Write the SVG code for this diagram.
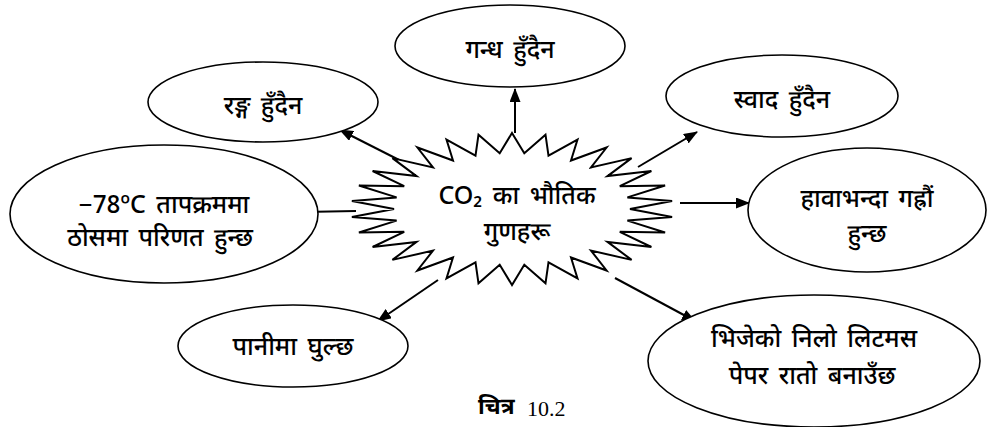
<svg xmlns="http://www.w3.org/2000/svg" width="987" height="427" viewBox="0 0 987 427">
<defs>
<marker id="ah" viewBox="0 0 14 11" refX="13" refY="5.5" markerWidth="14" markerHeight="11" markerUnits="userSpaceOnUse" orient="auto"><path d="M0,0 L14,5.5 L0,11 z" fill="#000"/></marker>
</defs>
<style>
.node ellipse{fill:#fff;stroke:#000;stroke-width:1.6}
.t{font-family:"Noto Sans Devanagari","Noto Sans","Liberation Sans",sans-serif;font-size:25px;font-weight:500;word-spacing:4px;fill:#000;text-anchor:middle}
.con line{stroke:#000;stroke-width:2;marker-end:url(#ah)}
</style>
<rect width="987" height="427" fill="#fff"/>
<g id="connectors" class="con">
<line x1="515" y1="133" x2="515" y2="89"/>
<line x1="405" y1="163" x2="340" y2="130"/>
<line x1="638" y1="167" x2="697" y2="132"/>
<line x1="680" y1="203" x2="749" y2="203"/>
<line x1="356" y1="211" x2="303" y2="212"/>
<line x1="438" y1="280" x2="378" y2="321"/>
<line x1="615" y1="278" x2="695" y2="321"/>
</g>
<g id="center" class="node">
<path d="M512,133 L524.3,153.3 L545.5,134.7 L548.5,155.7 L577.5,139.6 L571,160.5 L606.6,147.5 L591,167.4 L631.6,158.1 L607.5,176.1 L651.4,171 L619.8,186.2 L665.1,185.5 L627.4,197.4 L672.1,201.1 L630,209 L672.1,216.9 L627.4,220.6 L665.1,232.5 L619.8,231.8 L651.4,247 L607.5,241.9 L631.6,259.9 L591,250.6 L606.6,270.5 L571,257.5 L577.5,278.4 L548.5,262.3 L545.5,283.3 L524.3,264.7 L512,285 L499.7,264.7 L478.5,283.3 L475.5,262.3 L446.5,278.4 L453,257.5 L417.4,270.5 L433,250.6 L392.4,259.9 L416.5,241.9 L372.6,247 L404.2,231.8 L358.9,232.5 L396.6,220.6 L351.9,216.9 L394,209 L351.9,201.1 L396.6,197.4 L358.9,185.5 L404.2,186.2 L372.6,171 L416.5,176.1 L392.4,158.1 L433,167.4 L417.4,147.5 L453,160.5 L446.5,139.6 L475.5,155.7 L478.5,134.7 L499.7,153.3 Z" fill="#fff" stroke="#000" stroke-width="2" stroke-linejoin="miter"/>
<text class="t" x="517" y="204">CO₂ का भौतिक</text>
<text class="t" x="517" y="240">गुणहरू</text>
</g>
<g id="n-rang" class="node"><ellipse cx="263" cy="102" rx="115" ry="40"/><text class="t" x="263" y="114">रङ्ग हुँदैन</text></g>
<g id="n-gandha" class="node"><ellipse cx="510" cy="46" rx="115" ry="41"/><text class="t" x="510" y="58">गन्ध हुँदैन</text></g>
<g id="n-swad" class="node"><ellipse cx="782" cy="96" rx="116" ry="41"/><text class="t" x="782" y="108">स्वाद हुँदैन</text></g>
<g id="n-hawa" class="node"><ellipse cx="867" cy="210" rx="119" ry="62"/><text class="t" x="867" y="207">हावाभन्दा गह्रौं</text><text class="t" x="867" y="242">हुन्छ</text></g>
<g id="n-thos" class="node"><ellipse cx="164" cy="214" rx="154" ry="69"/><text class="t" x="164" y="213">−78ºC तापक्रममा</text><text class="t" x="160" y="246">ठोसमा परिणत हुन्छ</text></g>
<g id="n-pani" class="node"><ellipse cx="293" cy="346" rx="115" ry="41"/><text class="t" x="293" y="355">पानीमा घुल्छ</text></g>
<g id="n-litmus" class="node"><ellipse cx="814" cy="361" rx="166" ry="66"/><text class="t" x="814" y="347">भिजेको निलो लिटमस</text><text class="t" x="812" y="384">पेपर रातो बनाउँछ</text></g>
<g id="caption"><text x="478" y="414" style="font-family:'Noto Sans Devanagari','Noto Sans',sans-serif;font-size:23px;font-weight:bold">चित्र</text><text x="527" y="416" style="font-family:'Liberation Serif',serif;font-size:22px">10.2</text></g>
</svg>
